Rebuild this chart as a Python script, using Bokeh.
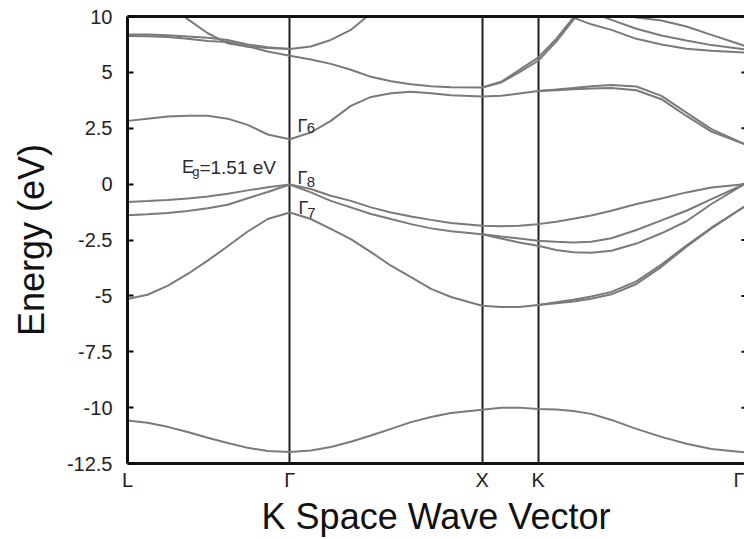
from bokeh.plotting import figure
from bokeh.models import Range1d, FixedTicker, LinearAxis, Label
from bokeh.embed import file_html
from bokeh.resources import INLINE

nan = float("nan")

# k-path distance (units of 2*pi/a) for L - Gamma - X - K - Gamma
k_nodes = [0.0, 0.844, 1.844, 2.135, 3.208]
k_node_labels = ["L", "Γ", "X", "K", "Γ"]

k = [0.000, 0.104, 0.208, 0.313, 0.417, 0.521, 0.625, 0.729, 0.844,
     0.953, 1.057, 1.161, 1.266, 1.370, 1.474, 1.578, 1.682, 1.844,
     1.943, 2.036, 2.135,
     2.229, 2.318, 2.411, 2.516, 2.646, 2.776, 2.906, 3.036, 3.208]

# band energies (eV) sampled along the path
band_s = [-10.58, -10.68, -10.86, -11.09, -11.35, -11.58, -11.80, -11.94, -11.98,
          -11.92, -11.76, -11.53, -11.25, -10.95, -10.65, -10.42, -10.24, -10.10,
          -10.01, -10.00, -10.06,
          -10.08, -10.15, -10.28, -10.55, -10.95, -11.31, -11.62, -11.85, -12.00]

band_v1 = [-5.14, -4.95, -4.55, -4.02, -3.42, -2.78, -2.12, -1.56, -1.27,
           -1.56, -2.00, -2.46, -3.04, -3.65, -4.16, -4.69, -5.05, -5.44,
           -5.50, -5.50, -5.41,
           -5.28, -5.17, -5.03, -4.82, -4.35, -3.60, -2.75, -1.95, -1.00]

band_v1b = [nan] * 20 + [-5.41,
            -5.33, -5.25, -5.13, -4.93, -4.47, -3.70, -2.80, -1.98, -1.00]

band_v2 = [-1.39, -1.35, -1.29, -1.20, -1.08, -0.92, -0.63, -0.35, -0.02,
           -0.37, -0.75, -1.04, -1.34, -1.56, -1.79, -1.98, -2.11, -2.24,
           -2.34, -2.43, -2.53,
           -2.58, -2.61, -2.58, -2.42, -2.05, -1.62, -1.19, -0.67, 0.00]

band_v2b = [nan] * 17 + [-2.24,
            -2.43, -2.61, -2.76,
            -2.95, -3.05, -3.07, -2.98, -2.66, -2.20, -1.66, -0.89, 0.00]

band_v3 = [-0.80, -0.76, -0.71, -0.64, -0.55, -0.43, -0.28, -0.14, -0.02,
           -0.22, -0.52, -0.75, -1.04, -1.27, -1.45, -1.60, -1.74, -1.86,
           -1.88, -1.86, -1.79,
           -1.68, -1.55, -1.40, -1.19, -0.89, -0.64, -0.37, -0.15, 0.00]

band_c1 = [2.83, 2.93, 3.03, 3.06, 3.06, 2.93, 2.65, 2.22, 2.01,
           2.31, 2.83, 3.50, 3.90, 4.07, 4.13, 4.07, 3.98, 3.92,
           3.95, 4.05, 4.17,
           4.23, 4.30, 4.38, 4.43, 4.37, 3.95, 3.20, 2.46, 1.79]

band_c1b = [nan] * 20 + [4.17,
            4.20, 4.24, 4.28, 4.30, 4.20, 3.80, 3.05, 2.35, 1.79]

band_c2 = [6.63, 6.62, 6.58, 6.50, 6.40, 6.36, 6.17, 5.93, 5.74,
           5.58, 5.38, 5.12, 4.80, 4.60, 4.47, 4.38, 4.34, 4.32,
           4.58, 5.10, 5.66,
           6.50, 7.45, 7.15, 6.90, 6.50, 6.25, 6.06, 5.97, 5.89]

band_c2b = [nan] * 17 + [4.32,
            4.55, 5.00, 5.52,
            6.38, 7.35, 8.30, nan, nan, nan, nan, nan, nan]

band_c3 = [6.70, 6.69, 6.66, 6.61, 6.55, 6.45, 6.25, 6.12, 6.05,
           6.16, 6.45, 6.90, 7.65, 8.80, nan, nan, nan, nan,
           nan, nan, nan,
           nan, nan, nan, nan, nan, nan, nan, nan, nan]

band_c4 = [9.50, 8.80, 8.10, 7.38, 6.75, 6.30, 6.15, 6.09, 6.05] + [nan] * 21

band_c5 = [nan] * 23 + [7.70, 7.35, 6.95, 6.65, 6.43, 6.22, 6.03]

band_c6 = [nan] * 24 + [7.60, 7.45, 7.32, 7.05, 6.68, 6.19]

bands = [band_s, band_v1, band_v1b, band_v2, band_v2b, band_v3,
         band_c1, band_c1b, band_c2, band_c2b, band_c3, band_c4,
         band_c5, band_c6]

energy_ticks = [-12.5, -10, -7.5, -5, -2.5, 0, 2.5, 5, 7.5]
energy_labels = ["-12.5", "-10", "-7.5", "-5", "-2.5", "0", "2.5", "5", "10"]

FONT = "Liberation Sans"
K_MIN, K_MAX = 0.0, 3.208

p = figure(width=744, height=539, output_backend="svg", toolbar_location=None,
           x_range=Range1d(K_MIN, K_MAX), y_range=Range1d(-12.5, 7.5),
           min_border_left=127, min_border_right=0, min_border_top=16,
           min_border_bottom=75, x_axis_label="K Space Wave Vector",
           y_axis_label="Energy (eV)")
p.outline_line_color = None
p.background_fill_color = "white"
p.border_fill_color = "white"

# high-symmetry point markers as vertical grid lines
p.xgrid.ticker = FixedTicker(ticks=k_nodes[1:4])
p.xgrid.grid_line_color = "#1c1c1c"
p.xgrid.grid_line_width = 2
p.ygrid.grid_line_color = None

xa = p.xaxis[0]
xa.ticker = FixedTicker(ticks=k_nodes)
xa.major_label_overrides = {kv: lab for kv, lab in zip(k_nodes, k_node_labels)}
xa.major_tick_in = 0
xa.major_tick_out = 0
xa.minor_tick_in = 0
xa.minor_tick_out = 0
xa.axis_line_width = 3
xa.axis_line_color = "#111111"
xa.major_label_text_font = FONT
xa.major_label_text_font_size = "20px"
xa.major_label_text_color = "#222222"
xa.major_label_standoff = 5
xa.axis_label_text_font = FONT
xa.axis_label_text_font_size = "36px"
xa.axis_label_text_font_style = "normal"
xa.axis_label_text_color = "#111111"
xa.axis_label_standoff = 2

ya = p.yaxis[0]
ya.ticker = FixedTicker(ticks=energy_ticks)
ya.major_label_overrides = {t: s for t, s in zip(energy_ticks, energy_labels)}
ya.major_tick_in = 6
ya.major_tick_out = 0
ya.major_tick_line_width = 2
ya.minor_tick_in = 0
ya.minor_tick_out = 0
ya.axis_line_width = 3
ya.axis_line_color = "#111111"
ya.major_label_text_font = FONT
ya.major_label_text_font_size = "20px"
ya.major_label_text_color = "#222222"
ya.major_label_standoff = 15
ya.axis_label_text_font = FONT
ya.axis_label_text_font_size = "36px"
ya.axis_label_text_font_style = "normal"
ya.axis_label_text_color = "#111111"
ya.axis_label_standoff = 12

top = LinearAxis(ticker=FixedTicker(ticks=[]), major_tick_in=0, major_tick_out=0,
                 minor_tick_in=0, minor_tick_out=0, major_label_standoff=0,
                 axis_line_width=3, axis_line_color="#111111")
p.add_layout(top, "above")

# short inward tick marks along the right edge
tick_len = 0.016
p.segment(x0=[K_MAX - tick_len] * len(energy_ticks), x1=[K_MAX] * len(energy_ticks),
          y0=energy_ticks, y1=energy_ticks, line_color="#111111", line_width=2)

for e in bands:
    p.line(k, e, line_color="#7a7a7a", line_width=2)

# annotations
def add_label(x, y, text, size):
    p.add_layout(Label(x=x, y=y, text=text, text_font=FONT, text_font_size=size,
                       text_color="#2a2a2a", text_baseline="alphabetic",
                       text_align="left"))

add_label(0.284, 0.76, "E", "18px")
add_label(0.337, 0.58, "g", "13px")
add_label(0.374, 0.76, "=1.51 eV", "19px")

add_label(0.884, 2.62, "Γ", "18px")
add_label(0.932, 2.49, "6", "15px")
add_label(0.884, 0.29, "Γ", "18px")
add_label(0.932, 0.10, "8", "15px")
add_label(0.889, -1.05, "Γ", "18px")
add_label(0.934, -1.27, "7", "15px")

open("out.html", "w").write(file_html(p, INLINE))
